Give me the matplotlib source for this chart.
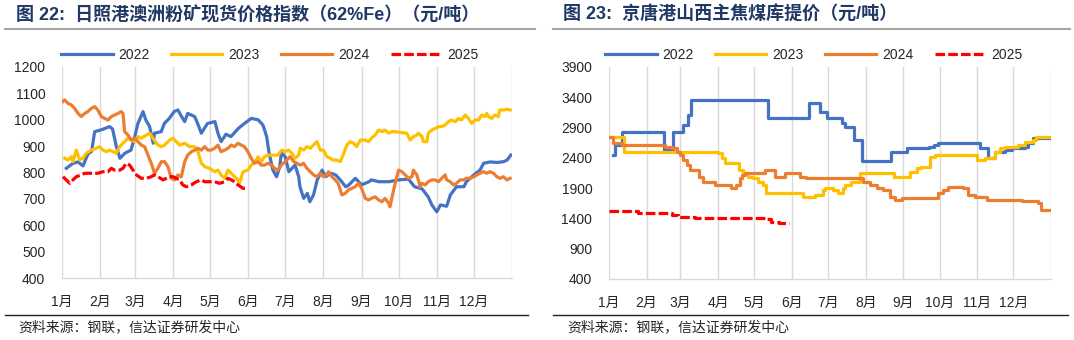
import matplotlib
matplotlib.use("Agg")
import matplotlib.pyplot as plt
from matplotlib.lines import Line2D

plt.rcParams['font.family'] = ['Liberation Sans', 'Noto Sans CJK SC', 'DejaVu Sans']

# ---------------- data ----------------
month_labels = ['1月', '2月', '3月', '4月', '5月', '6月', '7月', '8月', '9月', '10月', '11月', '12月']
month_starts = [0, 31, 59, 90, 120, 151, 181, 212, 243, 273, 304, 334]
year_len = 365
years = ['2022', '2023', '2024', '2025']

# Chart 22: Rizhao port Australian fines 62%Fe (day of year, yuan/t)
ore_days_2022 = [3.5, 9, 13, 17, 21, 24, 26.5, 32, 38.6, 41, 44, 47, 51, 56, 59, 61.6, 65.7, 68, 71, 74,
                 75, 80.5, 83, 87, 91, 94, 97, 99.5, 102, 107.6, 110, 113, 118, 124, 126.5, 129, 133, 137, 143, 148,
                 153.5, 159, 163, 166, 168, 171, 174, 176.5, 178, 181, 184, 189, 192, 193, 196, 199, 201, 204, 207, 211,
                 214, 218, 222, 227, 230, 232, 238, 243, 249, 251, 257, 265, 273, 281, 286, 292, 297, 300, 304, 307,
                 312, 315, 320, 326, 328, 334, 339, 342, 347, 353, 358, 361, 364]
ore_vals_2022 = [816, 835, 840, 825, 870, 880, 955, 962, 974, 965, 900, 854, 873, 885, 936, 986, 1031, 999, 975, 911,
                 949, 955, 986, 1005, 1031, 1037, 1012, 993, 1024, 1012, 986, 949, 986, 993, 949, 917, 945, 936, 967, 986,
                 1005, 1000, 980, 936, 873, 810, 784, 820, 875, 860, 803, 828, 784, 746, 702, 721, 689, 715, 772, 809,
                 784, 797, 791, 765, 746, 750, 778, 753, 765, 772, 765, 765, 772, 775, 746, 738, 708, 677, 651, 677,
                 672, 715, 746, 746, 765, 791, 809, 835, 840, 838, 841, 847, 866]

ore_days_2023 = [2.2, 4.9, 7.6, 8.9, 11.6, 14.3, 17, 19.7, 23.8, 27.8, 30.5, 33.2, 36, 38.6, 41.4, 44, 46.8, 50.8,
                 53.5, 56.2, 59, 61.6, 64.3, 68.4, 71, 73.8, 77.8, 80.5, 83.2, 87.3, 90, 92.7, 95.4, 99.5, 103.5,
                 107.6, 110.3, 113, 115.7, 119.7, 123.8, 126.5, 129, 132, 134.6, 137.3, 140, 142.7, 144, 146.8,
                 150.8, 153.5, 157.6, 159, 161.6, 164.3, 167, 171, 175, 178.4, 181, 183.8, 186.5, 189, 192, 193.2,
                 196, 198.6, 201.4, 204, 206.8, 209.5, 212, 214.9, 217.6, 220, 223, 225.7, 228, 231, 233.8, 236.5,
                 239, 242, 246, 248.6, 251, 254, 256.8, 259.5, 262, 265, 267.6, 270, 275.7, 279.7, 282.4, 285,
                 287.8, 289, 292, 293, 296, 297, 300, 302.7, 305.4, 308, 310.8, 313.5, 316, 319, 321.6, 324, 327,
                 329.7, 332.4, 335, 337.8, 340.5, 343, 344.6, 346, 348.6, 351, 354, 355, 358, 360.8, 363.5]
ore_vals_2023 = [854, 847, 860, 841, 885, 848, 854, 873, 885, 892, 898, 885, 879, 885, 879, 873, 898, 917,
                 930, 923, 917, 936, 930, 942, 949, 930, 904, 898, 904, 923, 930, 917, 904, 911, 898,
                 898, 879, 835, 822, 816, 803, 809, 791, 778, 809, 797, 784, 772, 760, 803,
                 809, 828, 847, 860, 841, 860, 866, 866, 866, 885, 879, 885, 873, 854, 866, 892,
                 885, 898, 892, 904, 917, 885, 885, 860, 854, 847, 847, 841, 866, 904, 917, 911,
                 898, 923, 923, 917, 930, 942, 961, 955, 961, 949, 955, 955, 951, 949, 923, 936,
                 942, 949, 936, 917, 917, 949, 961, 967, 974, 974, 980, 993, 999, 993, 1005, 999, 1018,
                 1005, 986, 999, 999, 1018, 1012, 1024, 1012, 1005, 1018, 1012, 1037, 1037, 1040, 1037]

ore_days_2024 = [0.8, 2.2, 4.9, 7.6, 10.3, 13, 15.7, 18.4, 21, 23.8, 26.5, 29, 32, 34.6, 37.3, 40, 42.7, 45.4, 48,
                 49.5, 50.8, 53.5, 56.2, 59, 61.6, 64.3, 67, 69.7, 72.4, 75, 77.8, 80.5, 83.2, 86, 88.6, 91.4, 94,
                 96.8, 98, 99.5, 102, 105, 107.6, 110.3, 113, 115.7, 118.4, 121, 123.8, 126.5, 129, 132, 134.6,
                 137.3, 140, 142.7, 145.4, 148, 150.8, 153.5, 156, 159, 161.6, 164.3, 167, 170, 172.4, 175, 177.8,
                 181, 183.8, 185, 188, 190.5, 193.2, 196, 198.6, 201.4, 204, 206.8, 209.5, 212, 214.9, 216, 219,
                 221.6, 224, 227, 229.7, 232.4, 235, 237.8, 240.5, 243, 246, 248.6, 251, 254, 256.8, 259.5, 262,
                 265, 266, 269, 271.6, 273, 275.7, 278.4, 281, 283.8, 285, 287.8, 289, 290.5, 292, 294.6, 297,
                 300, 302.7, 305.4, 308, 310.8, 312, 314.9, 317.6, 320, 323, 326, 328, 331, 334, 336.5, 339, 342,
                 344.6, 347, 350, 352.7, 355.4, 358, 360.8, 363.5]
ore_vals_2024 = [1069, 1075, 1062, 1056, 1043, 1024, 1012, 1024, 1031, 1043, 1050, 1037, 1012, 1005, 999, 1012, 1018, 1024, 1031,
                 1024, 955, 942, 923, 930, 917, 904, 898, 866, 835, 797, 816, 841, 841, 822, 778, 772, 791,
                 784, 809, 841, 866, 879, 885, 892, 885, 898, 885, 885, 892, 904, 879, 885, 892,
                 904, 898, 911, 904, 898, 879, 854, 835, 841, 828, 828, 835, 828, 816, 809, 828,
                 841, 854, 860, 841, 835, 828, 835, 816, 803, 791, 784, 797, 784, 791, 803, 784,
                 772, 759, 715, 721, 734, 740, 746, 759, 740, 702, 696, 702, 708, 696, 689, 702,
                 683, 670, 734, 784, 809, 803, 791, 778, 784, 809, 791, 772, 746, 759, 753, 765,
                 772, 772, 765, 778, 791, 772, 765, 753, 759, 772, 772, 778, 778, 784, 791, 797, 803,
                 797, 803, 797, 784, 778, 784, 772, 778]

ore_days_2025 = [0.8, 3.5, 6.2, 8.9, 11.6, 15.7, 18.4, 22.4, 26.5, 29, 33.2, 37.3, 40, 42.7, 46.8, 49.5, 52, 54.9,
                 57.6, 60.3, 64.3, 68.4, 72.4, 75, 77.8, 82, 84.6, 87.3, 90, 92.7, 95.4, 98, 100.8, 104.9, 109, 113,
                 115.7, 119.7, 123.8, 127.8, 132, 134.6, 137.3, 140, 142.7, 146.8, 150.8]
ore_vals_2025 = [784, 772, 759, 772, 784, 791, 797, 797, 797, 797, 803, 803, 816, 809, 809, 816, 835, 828,
                 809, 791, 778, 778, 784, 791, 784, 772, 778, 784, 784, 778, 772, 753, 746, 753, 765, 772,
                 765, 765, 765, 759, 765, 778, 772, 765, 753, 740, 740]

# Chart 23: Jingtang port Shanxi prime coking coal (step changes: day of year, yuan/t)
coal_days_2022 = [3.6, 5, 10.5, 45.7, 53, 61.4, 65.5, 68, 131.6, 165, 174, 180, 192, 195, 202, 208.6, 233, 246,
                  264, 268, 272, 306, 313, 319, 327, 332.5, 343.5, 346, 350, 365]
coal_vals_2022 = [2447, 2612, 2832, 2530, 2832, 2942, 3107, 3355, 3052, 3311, 3162, 3052, 2970, 2915, 2695, 2353, 2502, 2557,
                  2584, 2612, 2640, 2557, 2392, 2502, 2530, 2557, 2584, 2640, 2722, 2722]
coal_days_2023 = [0, 12.7, 90, 93, 96, 107, 111, 115, 119, 123, 127.5, 130, 160.5, 170, 177, 178, 185, 189, 193.5,
                  195, 200, 207, 235, 248.5, 254, 258, 265, 269, 303.6, 310.5, 319, 323, 327, 338, 343.5, 350, 353, 365]
coal_vals_2023 = [2744, 2502, 2475, 2392, 2310, 2199, 2144, 2089, 2062, 2007, 1952, 1814, 1759, 1787, 1869, 1897, 1869, 1814, 1897,
                  1952, 2007, 2144, 2089, 2172, 2227, 2254, 2419, 2447, 2364, 2392, 2502, 2557, 2584, 2612, 2667, 2695, 2750, 2750]
coal_days_2024 = [0, 3.6, 10.5, 46, 52, 56, 58.6, 61.4, 64, 67, 74, 78, 87.5, 101, 105, 108, 109.5, 112, 129, 137,
                  145, 158, 163, 210, 215.5, 221, 226.5, 232, 236, 241.7, 272, 276, 280, 292.6, 296.7, 302, 312,
                  340.8, 354.5, 357, 365]
coal_vals_2024 = [2750, 2640, 2612, 2584, 2557, 2502, 2447, 2364, 2282, 2199, 2089, 2007, 1952, 1897, 1952, 2062, 2117, 2155, 2199, 2089,
                  2155, 2089, 2062, 2007, 1952, 1897, 1869, 1759, 1704, 1731, 1814, 1869, 1924, 1897, 1787, 1759, 1704,
                  1693, 1649, 1539, 1539]
coal_days_2025 = [0, 24, 52, 57, 71, 129, 134, 140, 149]
coal_vals_2025 = [1528, 1484, 1456, 1429, 1412, 1385, 1346, 1319, 1319]

ore_yticks = list(range(400, 1201, 100))
coal_yticks = list(range(400, 3901, 500))

# ---------------- style ----------------
colors = ['#4472C4', '#FFC000', '#ED7D31', '#FF0000']
title_color = '#1F3864'
grid_color = '#D9D9D9'
txt_color = '#262626'
LW = 2.3

fig = plt.figure(figsize=(10.74, 3.40), dpi=100)


def style_axes(ax, yticks):
    ax.set_xlim(0, year_len)
    ax.set_ylim(yticks[0], yticks[-1])
    ax.set_yticks(yticks)
    ax.set_xticks(month_starts + [year_len])
    ax.set_xticklabels(month_labels + [''])
    ax.grid(axis='x', color=grid_color, lw=1.0)
    ax.set_axisbelow(True)
    for s in ['top', 'right', 'left']:
        ax.spines[s].set_visible(False)
    ax.spines['bottom'].set_color(grid_color)
    ax.spines['bottom'].set_linewidth(1.0)
    ax.tick_params(axis='both', length=0, labelsize=10, colors=txt_color)
    ax.tick_params(axis='y', pad=12)
    ax.tick_params(axis='x', pad=12)


def add_legend(ax, cx):
    handles = [Line2D([], [], color=colors[0], lw=LW),
               Line2D([], [], color=colors[1], lw=LW),
               Line2D([], [], color=colors[2], lw=LW),
               Line2D([], [], color=colors[3], lw=LW, ls=(0, (3, 1)))]
    fig.legend(handles, years, loc='center', bbox_to_anchor=(cx, 0.838), ncol=4,
               frameon=False, fontsize=10, handlelength=3.7, handletextpad=0.4,
               columnspacing=1.55, borderaxespad=0, labelcolor=txt_color)


# Left chart
ax1 = fig.add_axes([62 / 1074, 62 / 340, 450 / 1074, 211 / 340])
style_axes(ax1, ore_yticks)
ax1.plot(ore_days_2022, ore_vals_2022, color=colors[0], lw=LW)
ax1.plot(ore_days_2023, ore_vals_2023, color=colors[1], lw=LW)
ax1.plot(ore_days_2024, ore_vals_2024, color=colors[2], lw=LW)
ax1.plot(ore_days_2025, ore_vals_2025, color=colors[3], lw=LW, ls=(0, (3, 1)))
add_legend(ax1, 270 / 1074)

# Right chart
ax2 = fig.add_axes([609 / 1074, 61 / 340, 442 / 1074, 212 / 340])
style_axes(ax2, coal_yticks)
ax2.plot(coal_days_2022, coal_vals_2022, color=colors[0], lw=LW, drawstyle='steps-post')
ax2.plot(coal_days_2023, coal_vals_2023, color=colors[1], lw=LW, drawstyle='steps-post')
ax2.plot(coal_days_2024, coal_vals_2024, color=colors[2], lw=LW, drawstyle='steps-post')
ax2.plot(coal_days_2025, coal_vals_2025, color=colors[3], lw=LW, ls=(0, (3, 1)), drawstyle='steps-post')
add_legend(ax2, 814 / 1074)

# Titles, rules and sources
fig.text(16 / 1074, 1 - 15 / 340, '图 22:  日照港澳洲粉矿现货价格指数（62%Fe）（元/吨）',
         fontsize=13, fontweight='bold', color=title_color, va='center', ha='left')
fig.text(563 / 1074, 1 - 15 / 340, '图 23:  京唐港山西主焦煤库提价（元/吨）',
         fontsize=13, fontweight='bold', color=title_color, va='center', ha='left')

for x0, x1 in [(5, 535), (553, 1070)]:
    fig.add_artist(Line2D([x0 / 1074, x1 / 1074], [1 - 29 / 340] * 2, color='#A6A6A6', lw=1.5))
for x0, x1 in [(5, 528), (553, 1068)]:
    fig.add_artist(Line2D([x0 / 1074, x1 / 1074], [1 - 315 / 340] * 2, color='#202020', lw=1.0))

fig.text(18 / 1074, 1 - 327 / 340, '资料来源：钢联，信达证券研发中心', fontsize=10, color=txt_color,
         va='center', ha='left', style='italic')
fig.text(567 / 1074, 1 - 327 / 340, '资料来源：钢联，信达证券研发中心', fontsize=10, color=txt_color,
         va='center', ha='left', style='italic')

fig.savefig('out.png', dpi=100)
